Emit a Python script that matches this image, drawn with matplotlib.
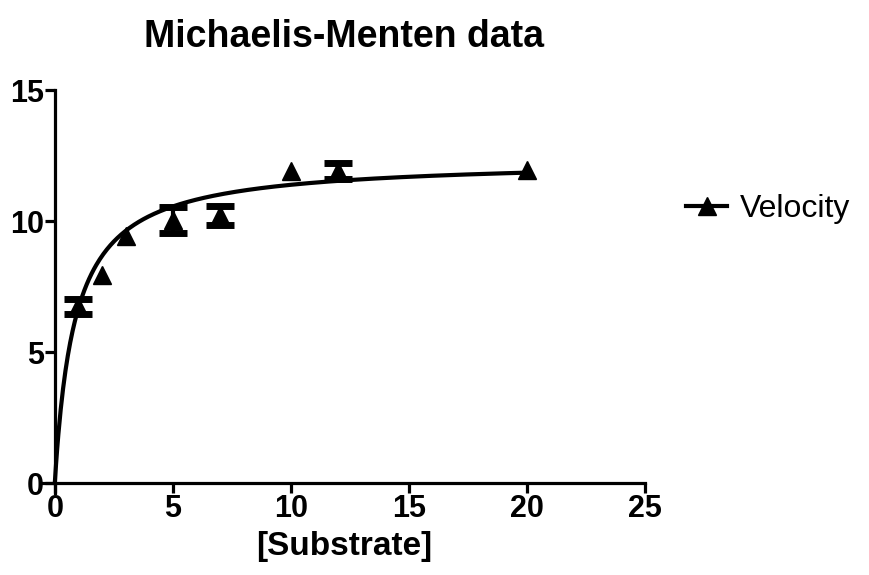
import numpy as np
import matplotlib
matplotlib.use('Agg')
import matplotlib.pyplot as plt

plt.rcParams['font.family'] = ['Liberation Sans', 'DejaVu Sans']

substrate = [1, 2, 3, 5, 7, 10, 12, 20]
velocity = [6.75, 7.94, 9.43, 10.03, 10.22, 11.91, 11.91, 11.95]
velocity_err = [0.28, 0, 0, 0.5, 0.36, 0, 0.31, 0]

# fitted Michaelis-Menten parameters
vmax = 12.35
km = 0.85

fig = plt.figure(figsize=(8.69, 5.75), dpi=100)
ax = fig.add_axes([43 / 869, 1 - 493 / 575, 602 / 869, 403 / 575])

s = np.linspace(0, max(substrate), 400)
ax.plot(s, vmax * s / (km + s), color='black', lw=3, zorder=2)

has_err = [e > 0 for e in velocity_err]
ax.errorbar([x for x, h in zip(substrate, has_err) if h],
            [v for v, h in zip(velocity, has_err) if h],
            yerr=[e for e in velocity_err if e > 0], fmt='none', ecolor='black',
            elinewidth=3, capsize=10, capthick=5, zorder=3)
ax.plot(substrate, velocity, linestyle='none', marker='^', color='black',
        markersize=13, zorder=4)

# legend entry
ax.plot([], [], color='black', lw=3, marker='^', markersize=13, label='Velocity')
ax.legend(loc='center left', bbox_to_anchor=(1.02, 0.705), frameon=False,
          fontsize=23, handlelength=1.3, handletextpad=0.4)

ax.set_xlim(-0.5, 25)
ax.set_ylim(-0.38, 15)
for side in ('top', 'right'):
    ax.spines[side].set_visible(False)
for side in ('left', 'bottom'):
    ax.spines[side].set_linewidth(2.3)
    ax.spines[side].set_position(('data', 0))

ax.set_xticks([0, 5, 10, 15, 20, 25])
ax.set_yticks([0, 5, 10, 15])
ax.tick_params(axis='both', length=7, width=2.3, labelsize=22, pad=1)
for lab in ax.get_xticklabels() + ax.get_yticklabels():
    lab.set_fontweight('bold')

ax.set_xlabel('[Substrate]', fontsize=24, fontweight='bold', labelpad=5)
ax.set_title('Michaelis-Menten data', fontsize=27, fontweight='bold', pad=31)

fig.savefig('out.png', dpi=100)
